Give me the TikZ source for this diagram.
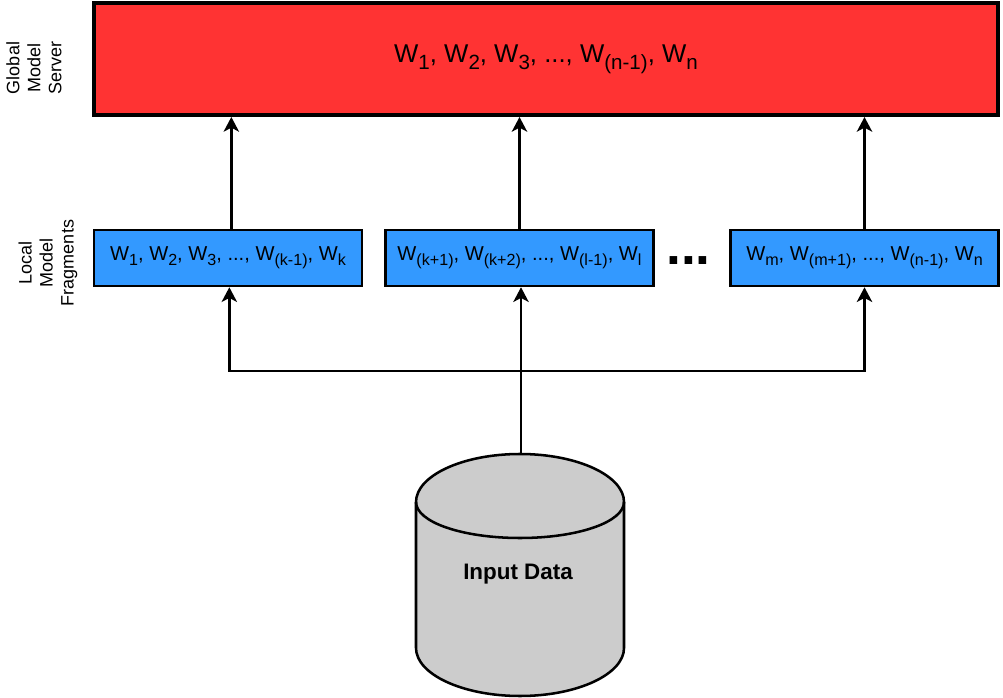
\documentclass[tikz,border=0pt]{standalone}
\usepackage{fontspec}
\setmainfont{Liberation Sans}
\usetikzlibrary{arrows.meta}
\newcommand{\W}[1]{W\raisebox{-0.27em}{\scalebox{0.8}{#1}}}
\tikzset{
  server/.style={draw, line width=3pt, fill=serverred, minimum width=678pt, minimum height=84pt, font=\fontsize{19.3}{21}\selectfont},
  fragment/.style={draw, line width=1.9pt, fill=fragblue, minimum width=201pt, minimum height=42pt, inner sep=0pt, font=\fontsize{15.1}{17}\selectfont},
  sidelabel/.style={rotate=90, align=center, font=\fontsize{13.5}{15.75}\selectfont},
  flow/.style={line width=1.9pt, -{Stealth[length=11pt, width=11.5pt, inset=3pt]}}
}
\definecolor{serverred}{HTML}{FF3333}
\definecolor{fragblue}{HTML}{3399FF}
\definecolor{datagray}{HTML}{CCCCCC}
\begin{document}
\begin{tikzpicture}[x=0.75pt, y=-0.75pt]
\useasboundingbox (0,0) rectangle (1003,698);
% Boites
\node[server] (server) at (546,59) {\W{1}, \W{2}, \W{3}, ..., \W{(n-1)}, \W{n}};
\node[fragment] (frag1) at (228,258) {\W{1}, \W{2}, \W{3}, ..., \W{(k-1)}, \W{k}};
\node[fragment] (frag2) at (519.5,258) {\W{(k+1)}, \W{(k+2)}, ..., \W{(l-1)}, \W{l}};
\node[fragment] (frag3) at (864.5,258) {\W{m}, \W{(m+1)}, ..., \W{(n-1)}, \W{n}};
\node[font=\fontsize{40}{40}\selectfont\bfseries] (dots) at (688.5,261) {...};
% Etiquettes
\node[sidelabel] (globallabel) at (34,68) {Global\\Model\\Server};
\node[sidelabel] (locallabel) at (48,263) {Local\\Model\\Fragments};
% Cylindre
\draw[line width=1.9pt, fill=datagray] (416,502)
  .. controls (416,476) and (462,454) .. (520,454)
  .. controls (578,454) and (624,476) .. (624,502)
  -- (624,648)
  .. controls (624,674) and (578,696) .. (520,696)
  .. controls (462,696) and (416,674) .. (416,648) -- cycle;
\draw[line width=1.9pt] (416,502)
  .. controls (416,522) and (462,538) .. (520,538)
  .. controls (578,538) and (624,522) .. (624,502);
\node[font=\fontsize{16.8}{20}\selectfont\bfseries] (data) at (518,574) {Input Data};
\coordinate (datatop) at (521,454);
\coordinate (branch) at (521,371);
% Fleches
\draw[flow] ([xshift=2.5pt]frag1.north) -- ([xshift=2.5pt]frag1.north |- server.south);
\draw[flow] (frag2.north) -- (frag2.north |- server.south);
\draw[flow] (frag3.north) -- (frag3.north |- server.south);
\draw[flow] (datatop) -- (branch |- frag2.south);
\draw[flow] (branch) -| ([xshift=1pt]frag1.south);
\draw[flow] (branch) -| (frag3.south);
\end{tikzpicture}
\end{document}
